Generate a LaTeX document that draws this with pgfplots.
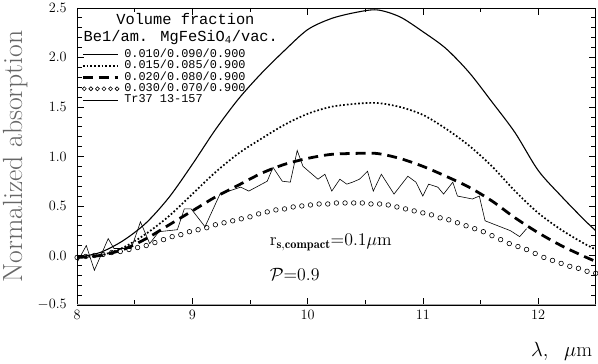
\RequirePackage{fix-cm}
\documentclass[border=0pt]{standalone}
\usepackage{fontspec}
\usepackage{pgfplots}
\pgfplotsset{compat=1.18}
\newfontfamily\monofont{Liberation Mono}
\pgfplotsset{
  legline/.style={legend image code/.code={\draw[##1] (0bp,0bp)--(35bp,0bp);}},
  legcirc/.style={legend image code/.code={\foreach \i in {0,1,2,3,4,5}{\draw[black, solid, line width=0.6bp] (\i*6.6bp+1.5bp,0bp) circle[radius=2bp];}}},
}

\begin{document}
\begin{tikzpicture}
\begin{axis}[
  width=522bp, height=299bp, scale only axis,
  xmin=8, xmax=12.5, ymin=-0.5, ymax=2.5,
  xtick={8,9,10,11,12}, minor x tick num=1,
  ytick={-0.5,0,0.5,1,1.5,2,2.5}, minor y tick num=4,
  y tick label style={/pgf/number format/fixed, /pgf/number format/fixed zerofill, /pgf/number format/precision=1, xshift=-7bp},
  x tick label style={yshift=-2bp},
  tick align=inside,
  major tick length=7bp, minor tick length=4.5bp,
  tick style={black, line width=0.6bp},
  axis line style={line width=0.7bp},
  ticklabel style={font=\fontsize{14.4}{17}\selectfont},
  xlabel={$\lambda,\ \ \mu\mathrm{m}$},
  xlabel style={at={(rel axis cs:1,0)}, anchor=north east, yshift=-34bp, font=\fontsize{20.74}{24}\selectfont},
  ylabel={Normalized\ absorption},
  ylabel shift=3bp,
  ylabel style={font=\fontsize{28}{33}\selectfont, text=black!60},
  legend cell align=left,
  legend style={at={(0.008,0.863)}, anchor=north west, draw=none, fill=none,
    inner sep=0pt, row sep=0pt, column sep=4bp,
    font=\monofont\fontsize{12}{12}\selectfont,
    nodes={inner sep=1bp, text height=7.5bp, text depth=2bp}},
]
% model, 0.010/0.090/0.900
\addplot[black, line width=1.1bp, smooth, tension=0.5, legline] coordinates {
  (8.0,-0.02) (8.2,0.03) (8.4,0.15) (8.6,0.33) (8.8,0.59) (9.0,0.92)
  (9.2,1.27) (9.4,1.58) (9.6,1.84) (9.8,2.07) (10.0,2.28) (10.2,2.39)
  (10.4,2.45) (10.6,2.48) (10.8,2.41) (11.0,2.26) (11.2,2.09) (11.4,1.85)
  (11.6,1.55) (11.8,1.24) (12.0,0.86) (12.2,0.60) (12.4,0.36) (12.5,0.25)
};
\addlegendentry{0.010/0.090/0.900}
% model, 0.015/0.085/0.900
\addplot[black, line width=1.7bp, dash pattern=on 1.7bp off 2.1bp, smooth, tension=0.5, legline] coordinates {
  (8.0,-0.02) (8.2,0.00) (8.4,0.08) (8.6,0.22) (8.8,0.40) (9.0,0.62)
  (9.2,0.84) (9.4,1.03) (9.6,1.18) (9.8,1.32) (10.0,1.43) (10.2,1.50)
  (10.4,1.53) (10.6,1.54) (10.8,1.50) (11.0,1.42) (11.2,1.28) (11.4,1.11)
  (11.6,0.90) (11.8,0.65) (12.0,0.43) (12.2,0.26) (12.4,0.12) (12.5,0.06)
};
\addlegendentry{0.015/0.085/0.900}
% model, 0.020/0.080/0.900
\addplot[black, line width=2.8bp, dash pattern=on 10bp off 6bp, smooth, tension=0.5, legline] coordinates {
  (8.0,-0.02) (8.2,0.00) (8.4,0.06) (8.6,0.17) (8.8,0.31) (9.0,0.45)
  (9.2,0.59) (9.4,0.71) (9.6,0.83) (9.8,0.92) (10.0,0.98) (10.2,1.02)
  (10.4,1.03) (10.6,1.03) (10.8,0.98) (11.0,0.90) (11.2,0.80) (11.4,0.69)
  (11.6,0.55) (11.8,0.38) (12.0,0.23) (12.2,0.10) (12.4,-0.01) (12.5,-0.06)
};
\addlegendentry{0.020/0.080/0.900}
% model, 0.030/0.070/0.900
\addplot[black, only marks, mark=o, mark size=2.3bp, mark options={line width=0.6bp}, legcirc] coordinates {
  (8.000,-0.02) (8.075,-0.01) (8.150,0.00) (8.225,0.01) (8.300,0.03)
  (8.375,0.04) (8.450,0.06) (8.525,0.08) (8.600,0.10) (8.675,0.13)
  (8.750,0.16) (8.825,0.19) (8.900,0.21) (8.975,0.24) (9.050,0.26)
  (9.125,0.28) (9.200,0.31) (9.275,0.33) (9.350,0.35) (9.425,0.37)
  (9.500,0.39) (9.575,0.42) (9.650,0.44) (9.725,0.46) (9.800,0.47)
  (9.875,0.49) (9.950,0.50) (10.025,0.51) (10.100,0.52) (10.175,0.52)
  (10.250,0.53) (10.325,0.53) (10.400,0.53) (10.475,0.53) (10.550,0.52)
  (10.625,0.52) (10.700,0.51) (10.775,0.49) (10.850,0.47) (10.925,0.45)
  (11.000,0.43) (11.075,0.41) (11.150,0.38) (11.225,0.36) (11.300,0.33)
  (11.375,0.30) (11.450,0.27) (11.525,0.24) (11.600,0.20) (11.675,0.16)
  (11.750,0.12) (11.825,0.09) (11.900,0.06) (11.975,0.02) (12.050,-0.02)
  (12.125,-0.05) (12.200,-0.08) (12.275,-0.11) (12.350,-0.13) (12.425,-0.16)
  (12.500,-0.18)
};
\addlegendentry{0.030/0.070/0.900}
% observed, Tr37 13-157
\addplot[black, line width=0.6bp, legline] coordinates {
  (8.00,-0.07) (8.08,0.10) (8.15,-0.15) (8.27,0.17) (8.32,0.07) (8.47,0.07)
  (8.55,0.34) (8.63,0.12) (8.71,0.24) (8.87,0.26) (8.93,0.47) (8.99,0.47)
  (9.11,0.29) (9.24,0.62) (9.42,0.69) (9.49,0.65) (9.65,0.75) (9.70,0.89)
  (9.78,0.75) (9.85,0.74) (9.91,1.06) (9.96,0.90) (10.09,0.77) (10.15,0.82)
  (10.21,0.65) (10.28,0.77) (10.34,0.72) (10.39,0.74) (10.45,0.77) (10.52,0.85)
  (10.57,0.65) (10.64,0.82) (10.75,0.62) (10.87,0.80) (10.94,0.74) (11.00,0.60)
  (11.05,0.72) (11.13,0.69) (11.18,0.62) (11.26,0.74) (11.30,0.60) (11.43,0.57)
  (11.49,0.60) (11.54,0.35) (11.76,0.25) (11.84,0.19) (11.90,0.27)
};
\addlegendentry{Tr37 13-157}

\draw[black!35, line width=1.3bp] (rel axis cs:0,0) -- (rel axis cs:1,0);
\node[anchor=base, font=\monofont\fontsize{15.5}{16}\selectfont] at (axis cs:8.94,2.33) {Volume fraction};
\node[anchor=base, font=\monofont\fontsize{15.5}{16}\selectfont] at (axis cs:8.90,2.16) {Be1/am. MgFeSiO\textsubscript{4}/vac.};
\node[anchor=base west, inner sep=0pt, scale=1.25, font=\fontsize{14.4}{17}\selectfont] at (axis cs:9.67,0.10) {$\mathrm{r}_{\mathbf{s,compact}}{=}0.1\mu\mathrm{m}$};
\node[anchor=base west, inner sep=0pt, scale=1.25, font=\fontsize{14.4}{17}\selectfont] at (axis cs:9.67,-0.25) {$\mathcal{P}{=}0.9$};
\end{axis}
\end{tikzpicture}
\end{document}
